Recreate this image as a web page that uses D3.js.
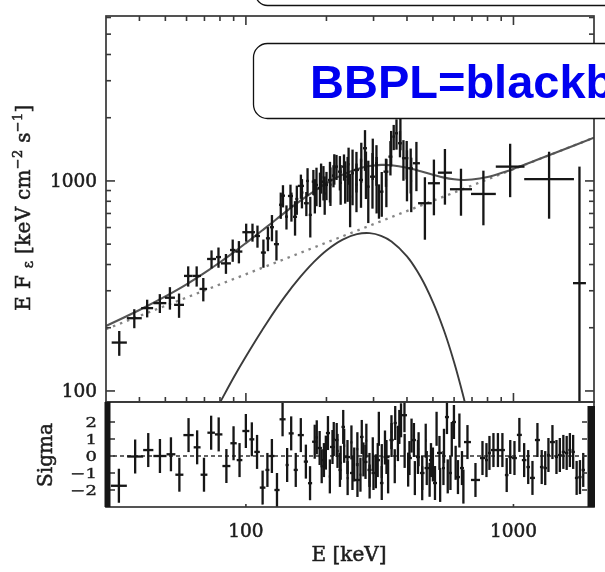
<!DOCTYPE html>
<html>
<head>
<meta charset="utf-8">
<script src="https://cdn.jsdelivr.net/npm/d3@7/dist/d3.min.js"></script>
<style>
  body { margin: 0; background: #fff; }
  svg { display: block; }
  .lbl { font-family: "DejaVu Serif", serif; fill: #1e1e1e; stroke: #1e1e1e; stroke-width: 0.55; }
</style>
</head>
<body>
<svg id="chart" width="605" height="572"></svg>
<script>
// Spectrum bins: [E low (keV), E high (keV), E·F_E, 1σ error]
const spectrum = [
  [31.5, 35.9, 170, 23], [35.9, 40.8, 222, 23], [40.6, 45.0, 248, 24], [45.1, 50.4, 262, 27],
  [49.8, 54.3, 278, 34], [53.9, 58.7, 257, 34], [58.7, 63.1, 353, 39], [63.1, 67.9, 353, 39],
  [67.1, 71.6, 306, 39], [71.6, 77.3, 425, 42], [77.3, 80.7, 434, 48], [80.7, 87.9, 405, 44],
  [87.2, 91.4, 469, 57], [91.4, 97.0, 461, 56], [97.0, 103.6, 570, 56], [103.6, 108.1, 570, 56],
  [108.1, 112.9, 547, 66], [113.8, 118.8, 456, 70], [118.8, 123.0, 533, 70], [123.0, 127.3, 602, 86],
  [127.3, 132.9, 500, 82], [135.2, 140.0, 851, 103], [140.0, 143.6, 676, 89], [143.6, 150.0, 848, 112],
  [150.0, 155.3, 675, 126], [156.4, 164.8, 947, 125], [164.8, 171.8, 783, 103], [171.8, 176.3, 689, 151],
  [176.3, 181.2, 992, 136], [181.2, 186.0, 957, 199], [186.0, 192.4, 923, 172], [192.4, 197.5, 992, 185],
  [197.5, 202.7, 957, 147], [202.7, 209.7, 1011, 222], [209.7, 215.3, 1060, 128], [215.3, 220.9, 1170, 160],
  [220.9, 228.3, 1107, 206], [228.3, 237.0, 1170, 167], [237.0, 243.0, 1048, 253], [243.0, 247.4, 842, 240],
  [247.4, 253.4, 1088, 322], [253.4, 264.6, 1128, 247], [264.6, 274.0, 1011, 266], [274.0, 283.5, 1431, 314],
  [283.5, 290.0, 939, 309], [290.9, 303.7, 1048, 310], [303.7, 311.6, 1214, 266], [311.6, 317.0, 812, 151],
  [317.0, 326.8, 889, 214], [326.8, 341.0, 1107, 170], [341.0, 352.9, 1305, 243], [352.9, 360.7, 1625, 223],
  [360.7, 370.3, 1687, 278], [370.3, 383.0, 1512, 216], [383.0, 393.0, 1283, 281], [393.0, 405.0, 1283, 267],
  [405.0, 421.0, 1149, 277], [421.0, 447.0, 1214, 320], [440.0, 495.0, 783, 258], [479.0, 531.0, 975, 289],
  [522.0, 589.0, 1095, 324], [579.0, 700.0, 913, 230], [694.0, 859.0, 867, 252], [859.0, 1100.0, 1170, 333],
  [1097.0, 1683.0, 1019, 358], [1669.0, 1866.0, 326, 844]
];

// Second detector's spectrum bins over the peak region, same layout
const spectrumB = [
  [133, 137, 770, 110], [146, 150, 760, 120], [153, 157, 820, 130], [160, 164, 880, 140],
  [168, 172, 1000, 150], [179, 183, 860, 160], [189, 193, 1040, 170], [195, 199, 870, 180],
  [205, 209, 960, 200], [212, 216, 1150, 190], [224, 228, 980, 210], [233, 237, 1010, 230],
  [240, 244, 1200, 240], [257, 261, 960, 250], [268, 272, 1250, 270], [279, 283, 1100, 280],
  [296, 300, 1300, 290], [306, 310, 1000, 300], [333, 337, 1010, 260], [347, 351, 1450, 280],
  [376, 380, 1700, 300], [398, 402, 1100, 300], [412, 418, 1000, 290]
];

// Residual bins: [E low (keV), E high (keV), (data - model)/σ]
const residuals = [
  [31.3, 35.9, -1.75], [36.0, 41.3, -0.03], [41.3, 45.1, 0.35], [45.1, 50.5, 0.0],
  [50.5, 54.5, 0.1], [54.5, 58.4, -1.1], [58.4, 63.8, 1.23], [63.8, 67.7, 0.51],
  [67.7, 71.8, -1.1], [71.8, 76.6, 1.37], [76.6, 81.7, 1.27], [81.7, 87.5, -0.59],
  [87.5, 92.4, 0.75], [92.4, 97.0, -0.24], [97.0, 103.0, 1.47], [103.0, 107.5, 0.98],
  [107.5, 112.7, 0.24], [112.7, 118.3, -1.86], [118.3, 122.4, -0.82], [122.4, 127.8, 0.0],
  [127.8, 133.6, -2.0], [133.6, 140.7, 2.16], [140.7, 144.5, -0.53], [144.5, 150.9, 1.33],
  [150.9, 156.3, -0.82], [156.3, 164.6, 1.23], [164.6, 170.6, -0.33], [170.6, 176.8, -1.6],
  [176.8, 184.9, 0.84], [184.9, 192.4, 0.47], [192.4, 199.1, -0.24], [199.1, 206.2, 1.35],
  [206.2, 215.3, 0.53], [215.3, 221.7, 0.94], [221.7, 227.6, -0.82], [227.6, 234.6, 1.71],
  [234.6, 244.9, -0.06], [244.9, 255.6, -1.0], [255.6, 266.9, -1.41], [266.9, 275.3, 1.12],
  [275.3, 284.7, -0.35], [284.7, 294.7, -0.82], [294.7, 305.0, -1.0], [305.0, 317.0, -0.24],
  [317.0, 326.8, -1.59], [326.8, 344.0, -0.06], [344.0, 356.7, 0.94], [356.7, 366.3, 1.94],
  [366.3, 383.0, 1.71], [383.0, 400.0, 2.4], [400.0, 417.3, -0.12], [417.3, 432.1, 0.94],
  [432.1, 447.3, -0.06], [447.3, 465.2, -1.0], [465.2, 483.4, -0.71], [483.4, 500.3, -0.24],
  [500.3, 517.8, -1.59], [517.8, 540.5, 0.18], [540.5, 554.6, -0.71], [554.6, 574.0, 2.29],
  [574.0, 589.0, -1.0], [589.0, 609.6, 2.0], [609.6, 631.1, -1.24], [631.1, 653.2, -0.71],
  [653.2, 693.7, 0.82], [693.7, 749.7, -1.41], [749.7, 782.6, -0.12], [782.6, 802.9, -0.24],
  [802.9, 824.0, 0.18], [824.0, 860.0, 0.35], [860.0, 890.0, 0.35], [890.0, 929.0, 0.35],
  [929.0, 958.0, -1.12], [958.0, 988.0, -0.06], [988.0, 1030, -0.12], [1030, 1075, 1.24],
  [1075, 1118, -0.24], [1118, 1153, -0.65], [1153, 1203, -1.29], [1203, 1256, 0.94],
  [1256, 1295, -0.65], [1295, 1334, -0.71], [1334, 1369, 0.06], [1369, 1429, 0.82],
  [1429, 1467, -0.06], [1467, 1515, 0.06], [1515, 1558, 0.24], [1558, 1604, 0.18],
  [1604, 1647, 0.35], [1647, 1697, 0.24], [1697, 1748, -1.29], [1748, 1797, -1.24],
  [1797, 1850, -0.82]
];

// Residuals of the second detector's bins
const residualsB = [
  [182, 186, 1.1], [190, 194, -0.6], [197, 201, 0.2], [204, 208, -1.2], [211, 215, 1.0],
  [218, 222, 0.3], [224, 228, -0.4], [231, 235, 0.6], [238, 242, -1.3], [246, 250, 0.8],
  [252, 256, -0.5], [259, 263, 0.4], [266, 270, -1.1], [273, 277, -0.2], [280, 284, 0.9],
  [288, 292, -1.5], [296, 300, 0.1], [304, 308, -0.9], [312, 316, 1.6], [320, 324, -0.3],
  [329, 333, 0.5], [338, 342, -1.2], [348, 352, 1.4], [358, 362, -0.6], [368, 372, 0.7],
  [378, 382, 2.1], [390, 394, 0.3], [402, 406, -0.8], [414, 418, 1.2], [426, 430, -1.3],
  [440, 444, 0.4], [454, 458, -1.6], [468, 472, 0.9], [484, 488, -1.4], [498, 502, -0.5],
  [514, 518, 1.6], [530, 534, -1.7], [548, 552, 0.6], [566, 570, -1.2], [586, 590, 1.0],
  [606, 610, -0.4], [626, 630, 1.5], [648, 652, -1.8]
];

// Model components sampled on an energy grid (keV)
const modelEnergy = [30, 40, 50, 60, 70, 80, 90, 100, 120, 140, 160, 180, 200, 230, 260, 290,
                     320, 350, 400, 450, 500, 550, 600, 650, 700, 800, 900, 1000, 1200, 1500, 2000];
const totalFlux   = [204, 243, 282, 322, 365, 410, 457, 506, 606, 708, 805, 895, 975, 1072, 1138, 1177,
                     1192, 1188, 1156, 1112, 1070, 1037, 1018, 1011, 1015, 1044, 1090, 1141, 1247, 1393, 1608];
const bbEnergy = [60, 70, 80, 90, 100, 120, 140, 160, 180, 200, 230, 260, 290, 320, 350, 400, 450, 500, 550, 600, 650, 700];
const bbFlux   = [44, 64, 88, 116, 146, 212, 282, 350, 413, 467, 526, 558, 564, 548, 515, 437, 349, 265, 194, 137, 94, 63];
const plEnergy = [30, 2000];
const plFlux   = [197, 1608];

// Axis ticks
const xMajor = [100, 1000];
const xMinor = [40, 50, 60, 70, 80, 90, 200, 300, 400, 500, 600, 700, 800, 900];
const yMajor = [100, 1000];
const yMinor = [200, 300, 400, 500, 600, 700, 800, 900, 2000, 3000, 4000, 5000, 6000];
const sigmaTicks = [2, 1, 0, -1, -2];

const L = 106, R = 594, T = 16, MB = 402, RB = 507;

const svg = d3.select("#chart");
const x = d3.scaleLog().domain([30, 2000]).range([L, R]);
const y = d3.scaleLog().domain([88.6, 6100]).range([MB, T]);
const yr = d3.scaleLinear().domain([-3, 3]).range([RB, RB - 102]);

const ink = "#141414";
const frame = "#383838";

const defs = svg.append("defs");
defs.append("clipPath").attr("id", "clipMain")
  .append("rect").attr("x", L).attr("y", T).attr("width", R - L).attr("height", MB - T);
defs.append("clipPath").attr("id", "clipRes")
  .append("rect").attr("x", L).attr("y", MB).attr("width", R - L).attr("height", RB - MB);
defs.append("filter").attr("id", "soft")
  .append("feGaussianBlur").attr("stdDeviation", 0.35);

const plot = svg.append("g").attr("filter", "url(#soft)");

// ---- main panel: model curves ----
const main = plot.append("g").attr("clip-path", "url(#clipMain)");
const lineFrom = (es, fs) => d3.line().curve(d3.curveCatmullRom)
  .x((d, i) => x(es[i])).y((d, i) => y(fs[i]))(es);

main.append("path").attr("d", lineFrom(plEnergy, plFlux))
  .attr("fill", "none").attr("stroke", "#858585").attr("stroke-width", 2.3)
  .attr("stroke-dasharray", "2.5,5");
main.append("path").attr("d", lineFrom(bbEnergy, bbFlux))
  .attr("fill", "none").attr("stroke", "#3a3a3a").attr("stroke-width", 1.9);
main.append("path").attr("d", lineFrom(modelEnergy, totalFlux))
  .attr("fill", "none").attr("stroke", "#555").attr("stroke-width", 2.1);

// ---- main panel: data crosses ----
const yMin = y.domain()[0];
const pts = main.append("g").attr("stroke", ink).attr("stroke-width", 2.3);
spectrum.concat(spectrumB).forEach(([lo, hi, f, e]) => {
  const xc = x(Math.sqrt(lo * hi));
  pts.append("line").attr("x1", x(lo)).attr("x2", x(hi)).attr("y1", y(f)).attr("y2", y(f));
  pts.append("line").attr("x1", xc).attr("x2", xc)
    .attr("y1", y(f + e)).attr("y2", y(Math.max(f - e, yMin * 0.9)));
});

// ---- residual panel ----
const res = plot.append("g").attr("clip-path", "url(#clipRes)");
res.append("line").attr("x1", L).attr("x2", R).attr("y1", yr(0)).attr("y2", yr(0))
  .attr("stroke", "#333").attr("stroke-width", 1.3).attr("stroke-dasharray", "4,3");
const rp = res.append("g").attr("stroke", ink).attr("stroke-width", 2.3);
residuals.concat(residualsB).forEach(([lo, hi, s]) => {
  const xc = x(Math.sqrt(lo * hi));
  rp.append("line").attr("x1", x(lo)).attr("x2", x(hi)).attr("y1", yr(s)).attr("y2", yr(s));
  rp.append("line").attr("x1", xc).attr("x2", xc).attr("y1", yr(s + 1)).attr("y2", yr(s - 1));
});

// ---- frames and ticks ----
const axes = plot.append("g").attr("stroke", frame).attr("fill", "none");
axes.append("rect").attr("x", L).attr("y", T).attr("width", R - L).attr("height", MB - T)
  .attr("stroke-width", 1.7);
axes.append("rect").attr("x", L).attr("y", MB).attr("width", R - L).attr("height", RB - MB)
  .attr("stroke-width", 1.7);

function xTicks(vals, len) {
  vals.forEach(v => {
    const xv = x(v);
    axes.append("line").attr("x1", xv).attr("x2", xv).attr("y1", T).attr("y2", T + len).attr("stroke-width", 1.6);
    axes.append("line").attr("x1", xv).attr("x2", xv).attr("y1", MB).attr("y2", MB - len).attr("stroke-width", 1.6);
  });
}
xTicks(xMajor, 9);
xTicks(xMinor, 5);
xMajor.forEach(v => {
  axes.append("line").attr("x1", x(v)).attr("x2", x(v)).attr("y1", RB).attr("y2", RB - 3).attr("stroke-width", 1.6);
});

function yTicks(vals, len) {
  vals.forEach(v => {
    const yv = y(v);
    axes.append("line").attr("x1", L).attr("x2", L + len).attr("y1", yv).attr("y2", yv).attr("stroke-width", 1.6);
    axes.append("line").attr("x1", R).attr("x2", R - len).attr("y1", yv).attr("y2", yv).attr("stroke-width", 1.6);
  });
}
yTicks(yMajor, 9);
yTicks(yMinor, 5);

// residual side bars and ticks
plot.append("rect").attr("x", 104.5).attr("y", MB).attr("width", 6).attr("height", RB - MB).attr("fill", ink);
plot.append("rect").attr("x", 587.5).attr("y", MB + 4).attr("width", 7.5).attr("height", RB - MB - 4).attr("fill", ink);
sigmaTicks.forEach(v => {
  axes.append("line").attr("x1", 110).attr("x2", 115).attr("y1", yr(v)).attr("y2", yr(v)).attr("stroke-width", 1.6);
  axes.append("line").attr("x1", 587).attr("x2", 582).attr("y1", yr(v)).attr("y2", yr(v)).attr("stroke-width", 1.6);
});

// ---- labels ----
const lab = plot.append("g").attr("class", "lbl");
yMajor.forEach(v => {
  lab.append("text").attr("x", 97).attr("y", y(v)).attr("text-anchor", "end")
    .attr("dominant-baseline", "central").attr("font-size", 18.5).text(d3.format("d")(v));
});
xMajor.forEach(v => {
  lab.append("text").attr("x", x(v)).attr("y", 537).attr("text-anchor", "middle")
    .attr("font-size", 18.5).text(d3.format("d")(v));
});
sigmaTicks.forEach(v => {
  lab.append("text")
    .attr("transform", `translate(97,${yr(v)}) scale(1,0.72)`)
    .attr("text-anchor", "end").attr("dominant-baseline", "central")
    .attr("font-size", 18).text(v < 0 ? "\u2212" + Math.abs(v) : String(v));
});

lab.append("text").attr("x", 349).attr("y", 561).attr("text-anchor", "middle")
  .attr("font-size", 20).text("E [keV]");

lab.append("text").attr("transform", "translate(51.5,455) rotate(-90)")
  .attr("text-anchor", "middle").attr("font-size", 20).text("Sigma");

const yl = lab.append("text").attr("transform", "translate(29.5,207.5) rotate(-90)")
  .attr("text-anchor", "middle").attr("font-size", 20).attr("letter-spacing", 0.3);
yl.append("tspan").text("E F ");
yl.append("tspan").attr("font-size", 14).attr("dy", 3).text("\u03b5");
yl.append("tspan").attr("dy", -3).text(" [keV cm");
yl.append("tspan").attr("font-size", 13).attr("dy", -8).text("\u22122");
yl.append("tspan").attr("dy", 8).text(" s");
yl.append("tspan").attr("font-size", 13).attr("dy", -8).text("\u22121");
yl.append("tspan").attr("dy", 8).text("]");

// ---- annotation boxes ----
svg.append("rect").attr("x", 255.5).attr("y", -30).attr("width", 420).attr("height", 35.5)
  .attr("rx", 12).attr("fill", "#fff").attr("stroke", "#111").attr("stroke-width", 1.3);
svg.append("rect").attr("x", 253.5).attr("y", 43.5).attr("width", 420).attr("height", 75)
  .attr("rx", 14).attr("fill", "#fff").attr("stroke", "#111").attr("stroke-width", 1.3);
svg.append("text").attr("x", 310).attr("y", 98)
  .attr("font-family", "'Liberation Sans', Arial, sans-serif").attr("font-weight", "bold")
  .attr("font-size", 47).attr("fill", "#0000f0").text("BBPL=blackbody");
</script>
</body>
</html>
